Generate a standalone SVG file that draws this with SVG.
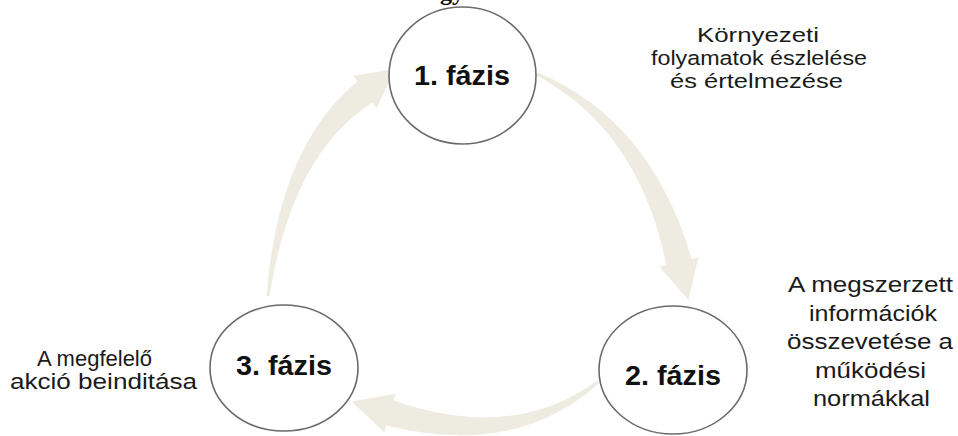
<svg xmlns="http://www.w3.org/2000/svg" width="958" height="436" viewBox="0 0 958 436">
  <style>
    .flow { fill: #eeece1; stroke: none; }
    .phase { fill: #ffffff; stroke: #6b6b6b; stroke-width: 1.6; }
    .label { font-family: "Liberation Sans", Arial, sans-serif; font-weight: bold; font-size: 28px; fill: #111111; text-anchor: middle; }
    .note { font-family: "Liberation Sans", Arial, sans-serif; font-size: 22px; fill: #1a1a1a; }
    .small { font-size: 20.5px; }
    .mid { text-anchor: middle; }
    .title { font-family: "Liberation Serif", "Times New Roman", serif; font-weight: bold; font-size: 24px; fill: #000000; }
  </style>

  <rect x="0" y="0" width="958" height="436" fill="#ffffff"/>

  <!-- clipped title line above the cycle -->
  <text class="title" x="440" y="0">gy</text>

  <!-- tapered curved arrows of the cycle -->
  <g id="connectors">
    <path class="flow" d="M 537.6,72.6 Q 651,120.1 691.6,258.9 L 698.4,257.2 L 688.5,300 L 659.6,266.8 L 666.4,265.1 Q 639,129.9 536.4,75.4 Z"/>
    <path class="flow" d="M 597.0,380.8 Q 513.4,442.3 393.7,400.5 L 395.7,393.8 L 351.6,401.6 L 384.3,432.2 L 386.3,425.5 Q 516.6,457.7 599.0,383.2 Z"/>
    <path class="flow" d="M 269.5,296.2 Q 291.6,153.9 372.6,102.5 L 376.7,108.2 L 395.0,69.0 L 353.3,75.8 L 357.4,81.5 Q 278.4,146.1 266.5,295.8 Z"/>
  </g>

  <g id="phase1">
    <ellipse class="phase" cx="462.5" cy="75.5" rx="73.5" ry="68.5"/>
    <text class="label" x="462" y="85" textLength="96" lengthAdjust="spacingAndGlyphs">1. fázis</text>
  </g>

  <g id="phase2">
    <ellipse class="phase" cx="673" cy="370" rx="74" ry="64"/>
    <text class="label" x="673" y="385" textLength="96" lengthAdjust="spacingAndGlyphs">2. fázis</text>
  </g>

  <g id="phase3">
    <ellipse class="phase" cx="284" cy="368" rx="74" ry="63"/>
    <text class="label" x="284" y="375" textLength="96" lengthAdjust="spacingAndGlyphs">3. fázis</text>
  </g>

  <g id="note1">
    <text class="note small mid" x="758" y="42" textLength="122" lengthAdjust="spacingAndGlyphs">Környezeti</text>
    <text class="note small mid" x="759" y="65" textLength="216" lengthAdjust="spacingAndGlyphs">folyamatok észlelése</text>
    <text class="note small mid" x="756.5" y="88" textLength="173" lengthAdjust="spacingAndGlyphs">és értelmezése</text>
  </g>

  <g id="note2">
    <text class="note mid" x="870.5" y="292" textLength="165" lengthAdjust="spacingAndGlyphs">A megszerzett</text>
    <text class="note mid" x="873" y="320.5" textLength="128" lengthAdjust="spacingAndGlyphs">információk</text>
    <text class="note mid" x="870" y="349" textLength="166" lengthAdjust="spacingAndGlyphs">összevetése a</text>
    <text class="note mid" x="870.5" y="377.5" textLength="111" lengthAdjust="spacingAndGlyphs">működési</text>
    <text class="note mid" x="871.5" y="406" textLength="117" lengthAdjust="spacingAndGlyphs">normákkal</text>
  </g>

  <g id="note3">
    <text class="note" x="37" y="366" textLength="115" lengthAdjust="spacingAndGlyphs">A megfelelő</text>
    <text class="note" x="10" y="389" textLength="187" lengthAdjust="spacingAndGlyphs">akció beinditása</text>
  </g>
</svg>
